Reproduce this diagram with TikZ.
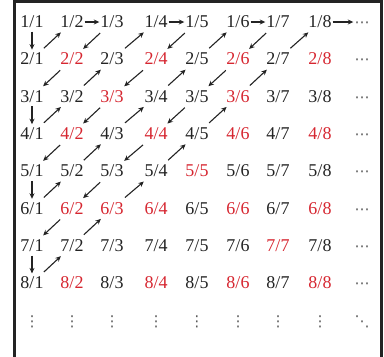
\documentclass[tikz,border=0pt]{standalone}
\usepackage{fontspec}
\setmainfont{Liberation Serif}
\newfontfamily\dotsfont{DejaVu Sans}
\usetikzlibrary{arrows.meta}
\definecolor{ink}{RGB}{35,35,35}
\definecolor{redink}{RGB}{214,38,48}
\definecolor{dotink}{RGB}{90,90,90}
\begin{document}
\begin{tikzpicture}[x=1pt,y=-1pt,
  cell/.style={inner xsep=1pt,inner ysep=3pt,text height=12pt,text depth=1pt,
    font=\fontsize{18}{20}\selectfont,text=ink},
  dotcell/.style={inner xsep=1pt,inner ysep=3pt,text height=12pt,text depth=1pt,
    font=\dotsfont\fontsize{15}{16}\selectfont,text=dotink},
  arr/.style={-{Stealth[length=5.5pt,width=5pt]},line width=1.1pt,draw=ink},
  diag/.style={arr,shorten <=2pt,shorten >=1pt}]
\useasboundingbox (0,0) rectangle (384,357);
\draw[line width=2.8pt,ink] (14.5,360) -- (14.5,1.5) -- (381.5,1.5) -- (381.5,360);
\foreach \r in {1,...,8}{
  \foreach \c/\x in {1/32,2/72,3/112,4/156,5/197,6/238,7/278,8/320}{
    \pgfmathtruncatemacro\g{gcd(\r,\c)}
    \pgfmathsetmacro\y{22+37.3*(\r-1)}
    \ifnum\g>1 \def\col{redink}\else\def\col{ink}\fi
    \node[cell,text=\col] (n\r\c) at (\x,\y) {\r/\c};
  }
  \pgfmathsetmacro\y{22+37.3*(\r-1)}
  \node[dotcell] (d\r) at (362,\y) {⋯};
}
\foreach \c/\x in {1/32,2/72,3/112,4/156,5/197,6/238,7/278,8/320}{
  \node[dotcell] (v\c) at (\x,321) {⋮};
}
\node[dotcell] (dd) at (362,321) {⋱};
% vertical steps
\foreach \a/\b in {11/21,31/41,51/61,71/81}{ \draw[arr] (n\a) -- (n\b); }
% horizontal steps
\foreach \a/\b in {12/13,14/15,16/17}{ \draw[arr] (n\a) -- (n\b); }
\draw[arr] (n18) -- (d1);
% diagonals
\foreach \a/\b in {21/12, 41/32,32/23,23/14, 61/52,52/43,43/34,34/25,25/16,
  81/72,72/63,63/54,54/45,45/36,36/27,27/18,
  13/22,22/31, 15/24,24/33,33/42,42/51,
  17/26,26/35,35/44,44/53,53/62,62/71}{ \draw[diag] (n\a) -- (n\b); }
\end{tikzpicture}
\end{document}
